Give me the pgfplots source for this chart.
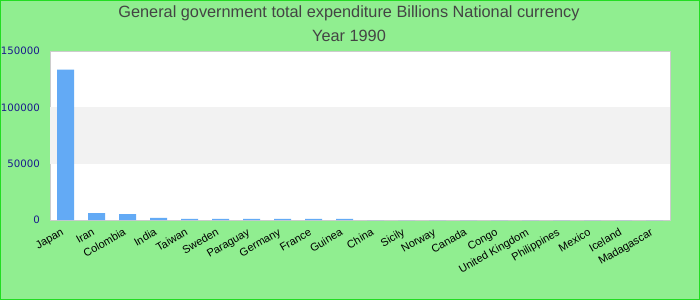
\documentclass[border=0pt]{standalone}
\usepackage{pgfplots}
\pgfplotsset{compat=1.18}
\usepackage{fontspec}
\setmainfont{Liberation Sans}
\newfontfamily\dejavu{DejaVu Sans}
\definecolor{bgg}{HTML}{90EE90}
\definecolor{brd}{HTML}{22DD22}
\definecolor{barc}{HTML}{63AAF5}
\definecolor{band}{HTML}{F2F2F2}
\definecolor{frame}{HTML}{CCCCCC}
\definecolor{ytc}{HTML}{1A1A8C}
\definecolor{ttl}{HTML}{444444}
\begin{document}
\begin{tikzpicture}[x=1pt,y=1pt]
\fill[bgg] (0,0) rectangle (700,300);
\draw[brd,line width=1.2pt] (0.6,0.6) rectangle (699.4,299.4);
\node[text=ttl,font=\fontsize{16.3}{19}\selectfont] at (349,287) {General government total expenditure Billions National currency};
\node[text=ttl,font=\fontsize{16.3}{19}\selectfont] at (349,264) {Year 1990};
\begin{axis}[
  at={(50pt,80pt)}, anchor=south west,
  scale only axis, width=620pt, height=169pt,
  xmin=-0.5, xmax=19.5, ymin=0, ymax=150000,
  ybar, bar width=17pt,
  axis background/.style={fill=white},
  axis line style={frame},
  xtick=data,
  xticklabels={Japan,Iran,Colombia,India,Taiwan,Sweden,Paraguay,Germany,France,Guinea,China,Sicily,Norway,Canada,Congo,United Kingdom,Philippines,Mexico,Iceland,Madagascar},
  xticklabel style={rotate=30, anchor=north east, font=\fontsize{11}{12}\selectfont, inner sep=1pt, yshift=-3pt, xshift=-7pt},
  ytick={0,50000,100000,150000},
  yticklabels={0,50000,100000,150000},
  yticklabel style={font=\dejavu\fontsize{10.2}{12}\selectfont, text=ytc, inner sep=0pt},
  yticklabel shift=10pt,
  scaled y ticks=false,
  major tick length=0pt,
  clip=false,
]
\fill[band] (axis cs:-0.5,50000) rectangle (axis cs:19.5,100000);
\addplot[fill=barc, draw=none] coordinates {
(0,133500) (1,6200) (2,5300) (3,1900) (4,1000) (5,900) (6,900) (7,1000) (8,1000) (9,900)
(10,0) (11,0) (12,0) (13,0) (14,0) (15,0) (16,0) (17,0) (18,0) (19,0)};
\end{axis}
\end{tikzpicture}
\end{document}
